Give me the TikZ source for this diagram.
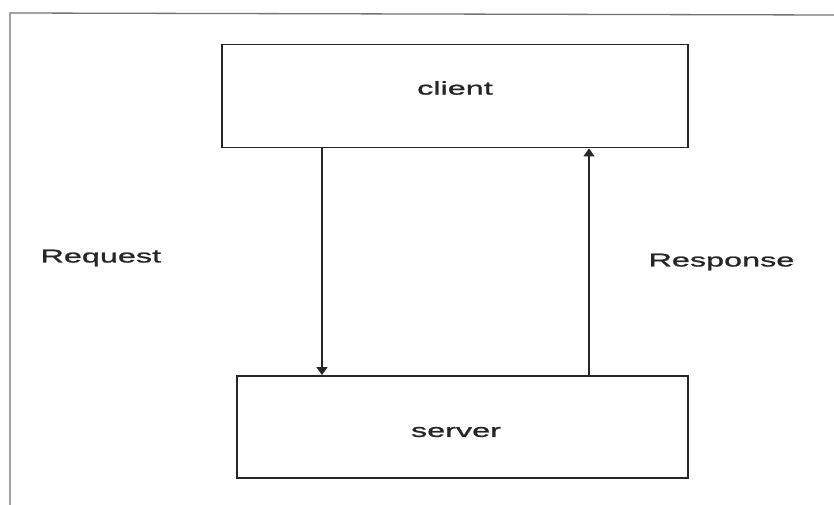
\documentclass[tikz,border=0pt]{standalone}
\usepackage{fontspec}
\setmainfont{Liberation Sans}
\newfontfamily\widefont[FakeStretch=1.75,FakeBold=1.2]{Liberation Sans}
\usetikzlibrary{arrows.meta}
\begin{document}
\begin{tikzpicture}[x=1pt,y=-1pt,
  box/.style={draw=black!85,line width=1.8pt},
  lbl/.style={font=\widefont\fontsize{18.5}{20}\selectfont,text=black!85},
  conn/.style={draw=black!85,line width=1.1pt,-{Triangle[length=8pt,width=11pt]}},
  frame/.style={draw=black!55,line width=1.3pt}]
\useasboundingbox[fill=white] (0,0) rectangle (834,505);
% frame
\coordinate (fa) at (10,505);
\coordinate (fb) at (10,13);
\coordinate (fc) at (834,15);
\draw[frame] (fa) -- (fb) -- (fc);
% boxes
\node[box,minimum width=466pt,minimum height=103pt,inner sep=0pt] (client) at (455,96) {};
\node[box,minimum width=451pt,minimum height=102pt,inner sep=0pt] (server) at (462.5,427) {};
\node[lbl] (clienttext) at (455,88) {client};
\node[lbl] (servertext) at (456,432) {server};
\node[lbl,anchor=west] (req) at (37,258) {Request};
\node[lbl,anchor=west] (resp) at (645,262) {Response};
% connectors
\draw[conn] (client.south -| 322,0) -- (server.north -| 322,0);
\draw[conn] (server.north -| 589,0) -- (client.south -| 589,0);
\end{tikzpicture}
\end{document}
